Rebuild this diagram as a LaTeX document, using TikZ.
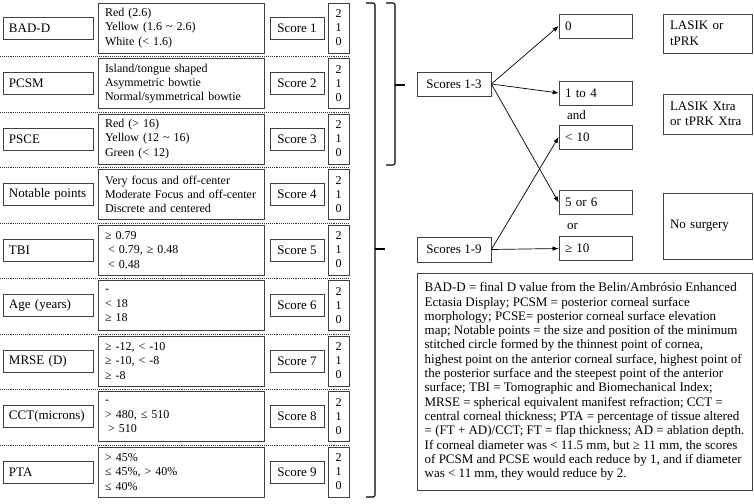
\documentclass[tikz,border=0pt]{standalone}
\usepackage{fontspec}
\setmainfont{Liberation Serif}
\usetikzlibrary{arrows.meta}
\begin{document}
\begin{tikzpicture}[x=1pt, y=-1pt, >={Latex[length=6pt,width=4.5pt]},
	box/.style = {draw=black!75, line width=0.7pt, inner ysep=0pt, font=\fontsize{13}{14.3}\selectfont},
	lab/.style = {box, minimum width=90pt, minimum height=22pt, inner xsep=6pt, text width=78pt, align=left},
	val/.style = {box, minimum width=166pt, minimum height=50pt, inner xsep=7pt, text width=152pt, align=left, font=\fontsize{12}{14.3}\selectfont},
	sc/.style = {box, minimum width=54pt, minimum height=22pt, inner xsep=2pt, align=center},
	dig/.style = {box, minimum width=21pt, minimum height=50pt, inner xsep=2pt, align=center, font=\fontsize{12}{14}\selectfont},
	mid/.style = {box, minimum width=73pt, minimum height=24pt, inner xsep=6pt, text width=61pt, align=left},
	res/.style = {box, minimum width=89pt, inner xsep=7pt, text width=75pt, align=left, font=\fontsize{13}{15.5}\selectfont},
	sep/.style = {densely dotted, line width=0.9pt, black!80},
	brace/.style = {line width=1.1pt, rounded corners=2pt}]
	\useasboundingbox (0,0) rectangle (754,503);
	
	% criteria
	\node[lab] (l1) at (48,28) {BAD-D};
	\node[val] (v1) at (181,28) {Red (2.6)\\Yellow (1.6 \textasciitilde{} 2.6)\\White (< 1.6)};
	\node[sc] (s1) at (297,28) {Score 1};
	\node[dig] (d1) at (338.5,28) {2\\1\\0};
	
	\node[lab] (l2) at (48,83.5) {PCSM};
	\node[val] (v2) at (181,83.5) {Island/tongue shaped\\Asymmetric bowtie\\Normal/symmetrical bowtie};
	\node[sc] (s2) at (297,83.5) {Score 2};
	\node[dig] (d2) at (338.5,83.5) {2\\1\\0};
	
	\node[lab] (l3) at (48,139) {PSCE};
	\node[val] (v3) at (181,139) {Red (> 16)\\Yellow (12 \textasciitilde{} 16)\\Green (< 12)};
	\node[sc] (s3) at (297,139) {Score 3};
	\node[dig] (d3) at (338.5,139) {2\\1\\0};
	
	\node[lab] (l4) at (48,194.5) {Notable points};
	\node[val] (v4) at (181,194.5) {Very focus and off-center\\Moderate Focus and off-center\\Discrete and centered};
	\node[sc] (s4) at (297,194.5) {Score 4};
	\node[dig] (d4) at (338.5,194.5) {2\\1\\0};
	
	\node[lab] (l5) at (48,250) {TBI};
	\node[val] (v5) at (181,250) {≥ 0.79\\\hspace*{3pt}< 0.79, ≥ 0.48\\\hspace*{3pt}< 0.48};
	\node[sc] (s5) at (297,250) {Score 5};
	\node[dig] (d5) at (338.5,250) {2\\1\\0};
	
	\node[lab] (l6) at (48,305.5) {Age (years)};
	\node[val] (v6) at (181,305.5) {-\\< 18\\≥ 18};
	\node[sc] (s6) at (297,305.5) {Score 6};
	\node[dig] (d6) at (338.5,305.5) {2\\1\\0};
	
	\node[lab] (l7) at (48,361) {MRSE (D)};
	\node[val] (v7) at (181,361) {≥ -12, < -10\\≥ -10, < -8\\≥ -8};
	\node[sc] (s7) at (297,361) {Score 7};
	\node[dig] (d7) at (338.5,361) {2\\1\\0};
	
	\node[lab] (l8) at (48,416.5) {CCT(microns)};
	\node[val] (v8) at (181,416.5) {-\\> 480, ≤ 510\\\hspace*{3pt}> 510};
	\node[sc] (s8) at (297,416.5) {Score 8};
	\node[dig] (d8) at (338.5,416.5) {2\\1\\0};
	
	\node[lab] (l9) at (48,472) {PTA};
	\node[val] (v9) at (181,472) {> 45\%\\≤ 45\%, > 40\%\\≤ 40\%};
	\node[sc] (s9) at (297,472) {Score 9};
	\node[dig] (d9) at (338.5,472) {2\\1\\0};
	
	% row separators
	\draw[sep] (0,56.5) -- (349,56.5);
	\draw[sep] (0,112) -- (349,112);
	\draw[sep] (0,167.5) -- (349,167.5);
	\draw[sep] (0,223) -- (349,223);
	\draw[sep] (0,278.5) -- (349,278.5);
	\draw[sep] (0,334) -- (349,334);
	\draw[sep] (0,389.5) -- (349,389.5);
	\draw[sep] (0,445) -- (349,445);
	
	% braces
	\draw[brace] (366,3) -- (375,3) -- (375,497) -- (366,497);
	\draw[brace] (375,249) -- (385,249);
	\draw[brace] (386,3) -- (395,3) -- (395,165) -- (386,165);
	\draw[brace] (395,85) -- (405,85);
	
	% totals
	\node[sc, minimum width=74pt, minimum height=24pt] (t3) at (454,84) {Scores 1-3};
	\node[sc, minimum width=74pt, minimum height=25pt] (t9) at (454,249.5) {Scores 1-9};
	
	\node[mid] (zero) at (595.5,26) {0};
	\node[mid] (onefour) at (595.5,93) {1 to 4};
	\node[mid] (lessten) at (595.5,137) {< 10};
	\node[mid] (fivesix) at (595.5,202.5) {5 or 6};
	\node[mid] (geten) at (595.5,248.5) {≥ 10};
	\node[font=\fontsize{13}{14.3}\selectfont, anchor=west, inner sep=0pt] (and) at (567,115) {and};
	\node[font=\fontsize{13}{14.3}\selectfont, anchor=west, inner sep=0pt] (or) at (567,226) {or};
	
	\node[res, minimum height=39pt] (lasik) at (707.5,33.5) {LASIK or\\tPRK};
	\node[res, minimum height=40pt] (xtra) at (707.5,114) {LASIK Xtra\\or tPRK Xtra};
	\node[res, minimum height=66pt] (nosurg) at (707.5,226) {No surgery};
	
	\draw[->, line width=0.7pt] (t3.east) -- (zero.west);
	\draw[->, line width=0.7pt] (t3.east) -- (onefour.west);
	\draw[->, line width=0.7pt] (t3.east) -- (fivesix.west);
	\draw[->, line width=0.7pt] (t9.east) -- (lessten.west);
	\draw[->, line width=0.7pt] (t9.east) -- (geten.west);
	
	% abbreviations
	\node[box, minimum width=335pt, minimum height=217pt, inner xsep=6pt, align=left] (notes) at (584.5,381.5) {BAD-D = final D value from the Belin/Ambrósio Enhanced\\
		Ectasia Display; PCSM = posterior corneal surface\\
		morphology; PCSE= posterior corneal surface elevation\\
		map; Notable points = the size and position of the minimum\\
		stitched circle formed by the thinnest point of cornea,\\
		highest point on the anterior corneal surface, highest point of\\
		the posterior surface and the steepest point of the anterior\\
		surface; TBI = Tomographic and Biomechanical Index;\\
		MRSE = spherical equivalent manifest refraction; CCT =\\
		central corneal thickness; PTA = percentage of tissue altered\\
		= (FT + AD)/CCT; FT = flap thickness; AD = ablation depth.\\
		If corneal diameter was < 11.5 mm, but ≥ 11 mm, the scores\\
		of PCSM and PCSE would each reduce by 1, and if diameter\\
		was < 11 mm, they would reduce by 2.};
	
\end{tikzpicture}
\end{document}
